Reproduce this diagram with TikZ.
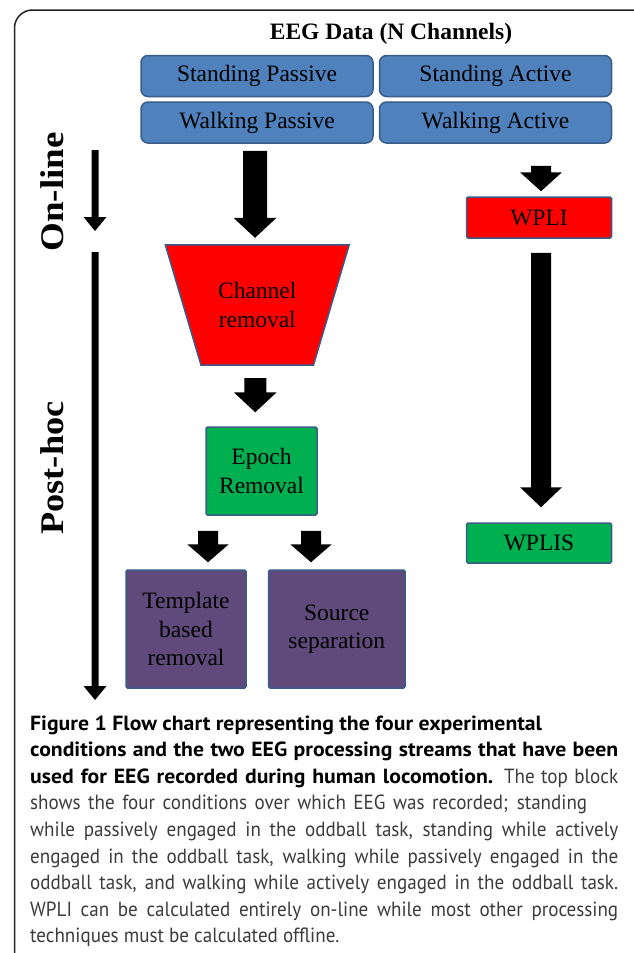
\documentclass[tikz,border=0pt]{standalone}
\usepackage{fontspec}
\setmainfont{Liberation Serif}
\newfontfamily\capfont[FakeStretch=0.93,BoldFeatures={FakeStretch=1.06}]{PT Sans}
\usetikzlibrary{calc,backgrounds}
\definecolor{boxblue}{RGB}{79,129,189}
\definecolor{bord}{RGB}{56,93,138}
\definecolor{boxred}{RGB}{255,0,0}
\definecolor{boxgreen}{RGB}{0,176,80}
\definecolor{boxpurple}{RGB}{96,74,123}
\definecolor{captext}{RGB}{60,60,60}
\definecolor{framec}{RGB}{35,35,35}
% start, end, shaft half width, head half width, head length
\newcommand\blockarrow[5]{%
  \fill[black] let \p1=(#1), \p2=(#2) in
   (\x1-#3,\y1) -- (\x1-#3,\y2+#5) -- (\x1-#4,\y2+#5) -- (\x1,\y2)
   -- (\x1+#4,\y2+#5) -- (\x1+#3,\y2+#5) -- (\x1+#3,\y1) -- cycle;}
\newcommand\capline[2][588pt]{\makebox[#1][s]{#2}}
\begin{document}
\begin{tikzpicture}[x=1pt,y=-1pt,
  lbl/.style={font=\fontsize{23.5}{28.5}\selectfont, align=center, text=black, inner sep=0pt},
  cond/.style={lbl, draw=bord, line width=1.5pt, fill=boxblue, rounded corners=7pt,
               minimum width=232pt, minimum height=41pt},
  rect/.style={lbl, draw=bord, line width=1.5pt, rounded corners=1.5pt},
  side/.style={font=\fontsize{33}{33}\bfseries\selectfont, rotate=90, inner sep=0pt},
  capl/.style={anchor=base west, inner sep=0pt, font=\capfont\fontsize{20.5}{26}\selectfont, text=captext},
]
\useasboundingbox (0,0) rectangle (633,953);
% frame
\draw[framec, line width=1.5pt, rounded corners=18pt] (14.5,960) -- (14.5,10) -- (650,10);

% title and conditions
\node[lbl, font=\fontsize{23.5}{28}\bfseries\selectfont, anchor=base] (title) at (391,39) {EEG Data (N Channels)};
\node[cond] (sp) at (257,76) {Standing Passive};
\node[cond] (sa) at (495.5,76) {Standing Active};
\node[cond] (wp) at (257,122.5) {Walking Passive};
\node[cond] (wa) at (495.5,122.5) {Walking Active};

% side labels
\node[side] (online) at (52,192) {\scalebox{1.12}[1]{On-line}};
\node[side] (posthoc) at (52,468) {\scalebox{1.1}[1]{Post-hoc}};
\coordinate (onA) at (95,150);
\coordinate (onB) at (95,231);
\coordinate (phA) at (95,252);
\coordinate (phB) at (95,700);

% right stream
\node[rect, fill=boxred, minimum width=145pt, minimum height=41pt] (wpli) at (539,217.5) {WPLI};
\node[rect, fill=boxgreen, minimum width=145pt, minimum height=40pt] (wplis) at (539,543) {WPLIS};

% left stream
\node[lbl, minimum width=183.5pt, minimum height=120pt] (chan) at (257.25,305) {Channel\\removal};
\begin{scope}[on background layer]
\fill[white] (0,0) rectangle (633,953);
\draw[bord, line width=1.5pt, fill=boxred] (chan.north west) -- (chan.north east)
  -- ([xshift=-35.75pt]chan.south east) -- ([xshift=35.75pt]chan.south west) -- cycle;
\end{scope}
\node[rect, fill=boxgreen, minimum width=111pt, minimum height=88pt] (epoch) at (261.5,471) {Epoch\\Removal};
\node[rect, fill=boxpurple, minimum width=120pt, minimum height=118pt] (templ) at (186,629) {Template\\based\\removal};
\node[rect, fill=boxpurple, minimum width=136.5pt, minimum height=118pt] (src) at (336.75,629) {Source\\separation};

% arrows
\blockarrow{onA}{onB}{3.5pt}{11.5pt}{14pt}
\blockarrow{phA}{phB}{3.5pt}{11.5pt}{14pt}
\blockarrow{$(wp.south)+(-2,7)$}{$(chan.north)+(-2,-7)$}{12pt}{21.5pt}{20pt}
\blockarrow{$(chan.south)+(-2,13)$}{$(epoch.north)+(-6.5,-14)$}{11pt}{21.5pt}{20pt}
\blockarrow{$(wa.south -| wpli.north)+(2,22)$}{$(wpli.north)+(2,-5)$}{10pt}{21pt}{19pt}
\blockarrow{$(wpli.south)+(2,14)$}{$(wplis.north)+(2,-15)$}{10pt}{21pt}{20pt}
\blockarrow{$(epoch.south)+(-53.5,15)$}{$(templ.north)+(22,-7)$}{10pt}{20.75pt}{18pt}
\blockarrow{$(epoch.south)+(49.5,15)$}{$(src.north)+(-25.75,-7)$}{10pt}{20.75pt}{18pt}

% caption
\node[capl, text=black] (c1) at (30,730) {\bfseries Figure 1 Flow chart representing the four experimental};
\node[capl, text=black] (c2) at (30,756.6) {\capline{\bfseries conditions and the two EEG processing streams that have been}};
\node[capl] (c3) at (30,783.2) {\capline{\textcolor{black}{\bfseries used for EEG recorded during human locomotion.} The top block}};
\node[capl] (c4) at (30,809.8) {\capline[557pt]{shows the four conditions over which EEG was recorded; standing}};
\node[capl] (c5) at (30,836.4) {\capline{while passively engaged in the oddball task, standing while actively}};
\node[capl] (c6) at (30,863) {\capline{engaged in the oddball task, walking while passively engaged in the}};
\node[capl] (c7) at (30,889.6) {\capline{oddball task, and walking while actively engaged in the oddball task.}};
\node[capl] (c8) at (30,916.2) {\capline{WPLI can be calculated entirely on-line while most other processing}};
\node[capl] (c9) at (30,942.8) {techniques must be calculated offline.};
\end{tikzpicture}
\end{document}
